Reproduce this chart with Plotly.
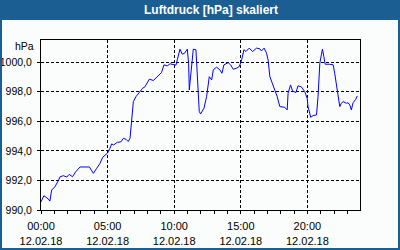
import plotly.graph_objects as go

DAY = "2018-02-12"
times = ["00:00","00:13","00:33","00:40","00:48","01:03","01:18","01:26","01:41","01:56",
         "02:07","02:22","02:37","02:56","03:38","03:56","04:11","04:26","04:38","04:59",
         "05:11","05:18","05:27","05:44","05:59","06:11","06:23","06:33","06:41","06:48",
         "06:56","07:08","07:23","07:38","07:48","08:08","08:26","08:41","09:03","09:14",
         "09:29","09:41","09:56","10:08","10:14","10:26","10:36","10:47","10:59","11:05",
         "11:08","11:12","11:21","11:26","11:38","11:44","11:48","11:53","11:59","12:08",
         "12:14","12:26","12:38","12:49","12:56","13:11","13:26","13:35","13:44","14:03",
         "14:14","14:26","14:41","14:53","15:04","15:14","15:23","15:38","15:53","16:11",
         "16:26","16:33","16:45","16:56","17:03","17:11","17:23","17:33","17:44","17:56",
         "18:18","18:29","18:33","18:44","18:53","19:08","19:18","19:33","19:48","19:59",
         "20:03","20:15","20:26","20:41","20:48","20:56","21:03","21:08","21:14","21:20",
         "21:41","21:56","22:03","22:11","22:18","22:26","22:33","22:41","22:56","23:03",
         "23:11","23:18","23:26","23:38","23:45"]
pressure = [990.55,990.97,990.74,990.60,991.35,991.58,991.98,992.25,992.32,992.23,
            992.41,992.25,992.60,992.91,992.91,992.48,992.82,993.16,993.57,993.84,
            994.18,994.47,994.40,994.58,994.60,994.85,994.78,994.63,994.85,995.98,
            997.33,997.67,997.97,998.24,998.33,998.85,998.76,998.98,999.30,999.82,
            999.75,999.89,999.85,999.80,1000.16,1000.88,1000.54,1000.61,1000.88,999.93,
            998.12,998.80,1000.04,1000.88,1000.84,999.25,997.67,996.66,996.50,996.77,
            996.88,997.67,999.02,998.80,999.48,999.66,999.48,999.25,999.82,999.97,
            999.82,999.52,999.59,999.70,1000.16,1000.84,1000.72,1000.95,1000.72,1000.95,
            1000.90,1000.76,1000.95,1000.61,1000.16,999.02,998.46,998.12,997.67,996.99,
            996.95,996.77,997.90,998.46,998.06,997.94,998.40,998.33,998.01,997.56,
            996.99,996.27,996.39,996.43,997.67,999.93,1000.50,1000.88,1000.38,999.86,
            999.86,999.82,999.25,998.35,997.67,996.99,997.22,997.33,997.22,997.26,
            997.11,996.77,997.26,997.49,997.72]
x_tick_times = ["00:00", "05:00", "10:00", "15:00", "20:00"]
x_tick_date = "12.02.18"
y_ticks = [990, 992, 994, 996, 998, 1000]
title_text = "Luftdruck [hPa] skaliert"
unit_text = "hPa"

x = [f"{DAY} {t}" for t in times]

BLUE = "#1B5E92"
BG = "#FAFDFB"

fig = go.Figure(go.Scatter(x=x, y=pressure, mode="lines",
                           line=dict(color="#0000FF", width=1), hoverinfo="skip"))

W, H = 400, 250
L, R, T, B = 41, 40, 40, 40
pw, ph = W - L - R, H - T - B

def px(v):
    return (v - L) / pw

def py(v):
    return (H - B - v) / ph

fig.update_layout(
    width=W, height=H,
    margin=dict(l=L, r=R, t=T, b=B, pad=0, autoexpand=False),
    paper_bgcolor=BG, plot_bgcolor=BG,
    showlegend=False,
    separators=",.",
    font=dict(family="Liberation Sans, Arial, sans-serif", size=10, color="black"),
    shapes=[
        dict(type="rect", xref="paper", yref="paper", x0=px(0), x1=px(400), y0=py(20), y1=py(0),
             fillcolor=BLUE, line=dict(width=0), layer="below"),
        dict(type="rect", xref="paper", yref="paper", x0=px(1), x1=px(399), y0=py(249), y1=py(1),
             line=dict(color=BLUE, width=2), fillcolor="rgba(0,0,0,0)"),
    ],
    annotations=[
        dict(text=title_text, xref="paper", yref="paper", x=px(211), y=py(10),
             xanchor="center", yanchor="middle", showarrow=False,
             font=dict(family="Liberation Sans, Arial, sans-serif", size=12, color="white", weight="bold")),
        dict(text=unit_text, xref="paper", yref="paper", x=px(36), y=py(46),
             xanchor="right", yanchor="middle", showarrow=False,
             font=dict(size=10.5, color="black")),
    ],
)

fig.update_xaxes(
    type="date", automargin=False,
    range=[f"{DAY} 00:00", f"{DAY} 23:57"],
    tickvals=[f"{DAY} {t}" for t in x_tick_times],
    ticktext=[f"{t}<br>{x_tick_date}" for t in x_tick_times],
    tickfont=dict(size=11),
    tickangle=0, ticklabelstandoff=3, ticklabeloverflow="allow",
    ticks="outside", ticklen=3, tickcolor="black", tickwidth=1,
    minor=dict(dtick=3600 * 1000, tick0=f"{DAY} 00:00", ticks="outside", ticklen=3,
               tickcolor="black", showgrid=False),
    showgrid=True, gridcolor="black", gridwidth=1, griddash="3px,2px",
    showline=True, linecolor="black", linewidth=1, mirror=True,
    zeroline=False, fixedrange=True,
)
fig.update_yaxes(
    automargin=False,
    range=[990, 1001.5],
    tickvals=y_ticks, tickformat=".1f",
    tickfont=dict(size=10.5),
    ticklabelstandoff=3,
    ticks="outside", ticklen=3, tickcolor="black", tickwidth=1,
    showgrid=True, gridcolor="black", gridwidth=1, griddash="3px,2px",
    showline=True, linecolor="black", linewidth=1, mirror=True,
    zeroline=False, fixedrange=True,
)

fig.write_html("out.html", config={"displayModeBar": False})
